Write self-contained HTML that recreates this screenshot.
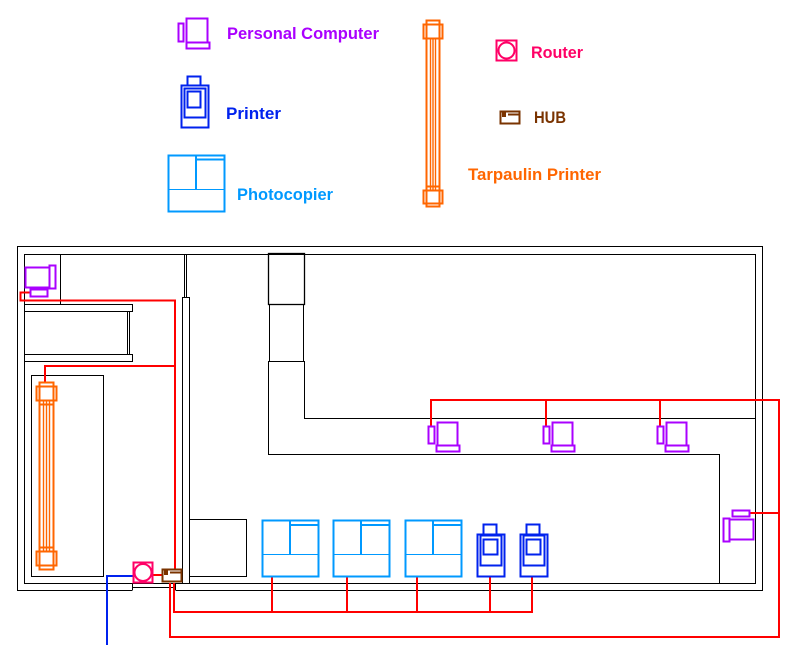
<!DOCTYPE html>
<html><head><style>
body{margin:0;background:#fff;}
svg{display:block;}
text{font-family:"Liberation Sans",sans-serif;font-weight:bold;font-size:17px;}
</style></head><body>
<svg width="802" height="664" viewBox="0 0 802 664" xmlns="http://www.w3.org/2000/svg">
<g fill="none" stroke-width="2">
<!-- Legend -->
<g stroke="#aa00ff">
<rect x="178.5" y="23.5" width="5" height="18"/>
<rect x="186.5" y="18.5" width="21" height="24"/>
<rect x="186.5" y="42.5" width="23" height="6"/>
</g>
<g stroke="#0022ee">
<rect x="187.5" y="76.5" width="13" height="9"/>
<rect x="181.5" y="85.5" width="27" height="42"/>
<rect x="184.5" y="88.5" width="21" height="29"/>
<rect x="187.5" y="91.5" width="13" height="16"/>
</g>
<g stroke="#0099ff">
<rect x="168.5" y="155.5" width="56" height="56"/>
<line x1="196" y1="155" x2="196" y2="189"/>
<line x1="168" y1="189.5" x2="224" y2="189.5" stroke-width="1"/>
<line x1="196" y1="159.5" x2="224" y2="159.5"/>
</g>
<g stroke="#ff6600">
<rect x="423.5" y="24.5" width="19" height="14"/>
<rect x="426.5" y="20.5" width="13" height="18"/>
<rect x="426.5" y="38.5" width="13" height="152"/>
<line x1="430.5" y1="38" x2="430.5" y2="190" stroke-width="1.4"/><line x1="433" y1="38" x2="433" y2="190" stroke-width="1.4"/><line x1="435.5" y1="38" x2="435.5" y2="190" stroke-width="1.4"/>
<rect x="423.5" y="190.5" width="19" height="13"/>
<rect x="426.5" y="186.5" width="13" height="20"/>
</g>
<g stroke="#ff0066">
<rect x="496.5" y="40.5" width="20" height="20"/>
<circle cx="506.5" cy="50.5" r="8"/>
</g>
<g stroke="#7a3300">
<rect x="500.5" y="111.5" width="19" height="12"/>
<line x1="508" y1="114.5" x2="519" y2="114.5"/>
<line x1="503" y1="112" x2="503" y2="117"/><line x1="505" y1="112" x2="505" y2="117"/>
</g>
</g>
<text x="227" y="39" fill="#aa00ff" textLength="152" lengthAdjust="spacingAndGlyphs">Personal Computer</text>
<text x="226" y="119" fill="#0022ee" textLength="55" lengthAdjust="spacingAndGlyphs">Printer</text>
<text x="237" y="200" fill="#0099ff" textLength="96" lengthAdjust="spacingAndGlyphs">Photocopier</text>
<text x="468" y="180" fill="#ff6600" textLength="133" lengthAdjust="spacingAndGlyphs">Tarpaulin Printer</text>
<text x="531" y="58" fill="#ff0066" textLength="52" lengthAdjust="spacingAndGlyphs">Router</text>
<text x="534" y="123" fill="#7a3300" textLength="32" lengthAdjust="spacingAndGlyphs">HUB</text>

<!-- Building walls -->
<g fill="none" stroke="#000" stroke-width="1">
<polyline points="132.5,590.5 17.5,590.5 17.5,246.5 762.5,246.5 762.5,590.5 175.5,590.5"/>
<rect x="24.5" y="254.5" width="731" height="329"/>
<line x1="132.5" y1="583" x2="132.5" y2="590"/>
<line x1="132" y1="587.5" x2="175" y2="587.5"/>
<line x1="175.5" y1="583" x2="175.5" y2="590"/>
<line x1="60.5" y1="254" x2="60.5" y2="304"/>
<rect x="24.5" y="304.5" width="108" height="7"/>
<rect x="24.5" y="354.5" width="108" height="7"/>
<line x1="127.5" y1="311" x2="127.5" y2="354"/><line x1="129.5" y1="311" x2="129.5" y2="354"/>
<rect x="31.5" y="375.5" width="72" height="201"/>
<rect x="182.5" y="297.5" width="7" height="286"/>
<line x1="184.5" y1="254" x2="184.5" y2="297"/><line x1="186.5" y1="254" x2="186.5" y2="297"/>
<rect x="189.5" y="519.5" width="57" height="57"/>
<rect x="268.5" y="253.5" width="36" height="51" stroke-width="1.3"/>
<rect x="269.5" y="304.5" width="34" height="57"/>
<polyline points="304.5,361.5 304.5,418.5 755,418.5"/>
<polyline points="268.5,361 268.5,454.5 719.5,454.5 719.5,583"/>
<line x1="268" y1="361.5" x2="305" y2="361.5"/>
</g>

<!-- Red network -->
<g fill="none" stroke="#ff0000" stroke-width="2">
<polyline points="30,292.5 20.5,292.5 20.5,300.5 175,300.5 175,569"/>
<polyline points="175,366 45,366 45,383"/>
<polyline points="174,583 174,612 532,612 532,576"/>
<line x1="272" y1="576" x2="272" y2="612"/>
<line x1="347" y1="576" x2="347" y2="612"/>
<line x1="417" y1="576" x2="417" y2="612"/>
<line x1="490" y1="576" x2="490" y2="612"/>
<polyline points="170,583 170,637 779,637 779,400 431,400 431,426"/>
<line x1="546" y1="400" x2="546" y2="426"/>
<line x1="660" y1="400" x2="660" y2="426"/>
<line x1="749" y1="513" x2="779" y2="513"/>
<line x1="153" y1="575" x2="162" y2="575"/>
</g>
<polyline points="133,576 107,576 107,645" fill="none" stroke="#0022ee" stroke-width="2"/>

<!-- Devices in plan -->
<g fill="none" stroke-width="2">
<g stroke="#aa00ff">
<rect x="25.5" y="267.5" width="24" height="20"/>
<rect x="49.5" y="265.5" width="6" height="23"/>
<rect x="30.5" y="289.5" width="17" height="7"/>
<g id="pc"><rect x="428.5" y="426.5" width="6" height="17"/><rect x="437.5" y="422.5" width="20" height="23"/><rect x="436.5" y="445.5" width="23" height="6"/></g>
<use href="#pc" x="115"/><use href="#pc" x="229"/>
<rect x="723.5" y="518.5" width="6" height="23"/>
<rect x="729.5" y="519.5" width="24" height="20"/>
<rect x="732.5" y="510.5" width="17" height="6"/>
</g>
<g stroke="#ff6600">
<rect x="36.5" y="386.5" width="20" height="14"/>
<rect x="39.5" y="382.5" width="14" height="22"/>
<rect x="39.5" y="400.5" width="14" height="151"/>
<line x1="43.5" y1="400" x2="43.5" y2="551" stroke-width="1.4"/><line x1="46.5" y1="400" x2="46.5" y2="551" stroke-width="1.4"/><line x1="49.5" y1="400" x2="49.5" y2="551" stroke-width="1.4"/>
<rect x="36.5" y="551.5" width="20" height="14"/>
<rect x="39.5" y="547.5" width="14" height="22"/>
</g>
<g stroke="#0099ff">
<g id="cp"><rect x="262.5" y="520.5" width="56" height="56"/><line x1="290" y1="520" x2="290" y2="554"/><line x1="262" y1="554.5" x2="318" y2="554.5" stroke-width="1"/><line x1="290" y1="525" x2="318" y2="525"/></g>
<use href="#cp" x="71"/><use href="#cp" x="143"/>
</g>
<g stroke="#0022ee">
<g id="pr"><rect x="483.5" y="524.5" width="13" height="10"/><rect x="477.5" y="534.5" width="27" height="42"/><rect x="480.5" y="535.5" width="21" height="30"/><rect x="483.5" y="539.5" width="14" height="15"/></g>
<use href="#pr" x="43"/>
</g>
<g stroke="#ff0066">
<rect x="133.5" y="562.5" width="19" height="20"/>
<circle cx="143" cy="572.5" r="8.5"/>
</g>
<g stroke="#7a3300">
<rect x="162.5" y="569.5" width="19" height="12"/>
<line x1="170" y1="572.5" x2="181" y2="572.5"/>
<line x1="165" y1="570" x2="165" y2="575"/><line x1="167" y1="570" x2="167" y2="575"/>
</g>
</g>
</svg>
</body></html>
